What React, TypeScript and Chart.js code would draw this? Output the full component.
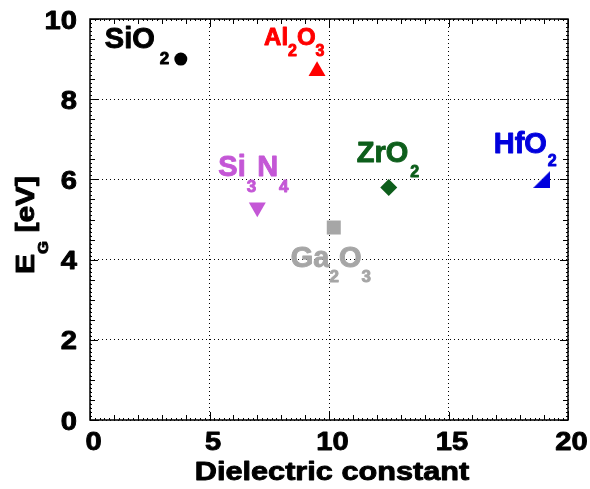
import { useEffect, useRef } from 'react';
import { Chart, registerables } from 'chart.js';

Chart.register(...registerables);

// Band gap vs. dielectric constant of common gate dielectrics
const materials = ['SiO2', 'Al2O3', 'Si3N4', 'Ga2O3', 'ZrO2', 'HfO2'];
const dielectricConstant = [3.8, 9.5, 7.0, 10.2, 12.5, 18.9];
const bandGapEV = [9.0, 8.7, 5.3, 4.8, 5.8, 6.0];

const xTickValues = [0, 5, 10, 15, 20];
const yTickValues = [0, 2, 4, 6, 8, 10];
const xTitle = 'Dielectric constant';

const colors = ['#000000', '#ff0000', '#c457d6', '#a6a6a6', '#0d5e1b', '#0000dd'];
const markerRadius = [6.5, 9.8, 9.8, 9.9, 8.5, 8.5];
const markerRotation = [0, 0, 180, 0, 0, 0];

// label placement relative to each marker (px): text start, baseline, font sizes
const labelStyle = [
  { dx: -76, dy: -11, size: 29, subSize: 17, subDy: 16, gap: 5 },
  { dx: -53, dy: -26.5, size: 24, subSize: 16, subDy: 11, gap: 0 },
  { dx: -39, dy: -31.5, size: 29, subSize: 17, subDy: 16, gap: 1 },
  { dx: -43, dy: 39.5, size: 29, subSize: 17, subDy: 15, gap: 0 },
  { dx: -32, dy: -25, size: 29, subSize: 16, subDy: 14.5, gap: 2 },
  { dx: -48, dy: -26, size: 29, subSize: 16, subDy: 13, gap: 1 },
];

const FONT = '"Liberation Sans", Arial, Helvetica, sans-serif';
const HEAVY = 0.9; // extra stroke to give the bold face more weight

type Run = { text: string; sub: boolean };

function formulaRuns(name: string): Run[] {
  const out: Run[] = [];
  const re = /(\d+)|(\D+)/g;
  let m: RegExpExecArray | null;
  while ((m = re.exec(name))) out.push({ text: m[0], sub: !!m[1] });
  return out;
}

function wedgeMarker(color: string, size: number) {
  const c = document.createElement('canvas');
  c.width = size;
  c.height = size;
  const g = c.getContext('2d')!;
  g.fillStyle = color;
  g.beginPath();
  g.moveTo(size, 0);
  g.lineTo(size, size);
  g.lineTo(0, size);
  g.closePath();
  g.fill();
  return c;
}

function heavyText(ctx: CanvasRenderingContext2D, text: string, x: number, y: number) {
  ctx.strokeStyle = ctx.fillStyle as string;
  ctx.lineWidth = HEAVY;
  ctx.lineJoin = 'round';
  ctx.fillText(text, x, y);
  ctx.strokeText(text, x, y);
}

// draws a sequence of normal / subscript text pieces along a baseline
function drawRuns(
  ctx: CanvasRenderingContext2D,
  runs: Run[],
  size: number,
  subSize: number,
  subDy: number,
  gap: number,
  stretch: number,
) {
  let cx = 0;
  ctx.save();
  ctx.scale(stretch, 1);
  ctx.textBaseline = 'alphabetic';
  ctx.textAlign = 'left';
  runs.forEach((r, i) => {
    ctx.font = `bold ${r.sub ? subSize : size}px ${FONT}`;
    heavyText(ctx, r.text, cx, r.sub ? subDy : 0);
    cx += ctx.measureText(r.text).width;
    if (i < runs.length - 1) cx += gap;
  });
  ctx.restore();
}

const framePlugin = {
  id: 'frameAndTicks',
  beforeDatasetsDraw(chart: any) {
    const { ctx, chartArea: a, scales } = chart;
    const xs = scales.x;
    const ys = scales.y;
    ctx.save();
    ctx.strokeStyle = '#000';
    ctx.lineWidth = 1;
    ctx.beginPath();
    for (let i = 0; i <= 100; i++) {
      const v = i * 0.2;
      const len = i % 25 === 0 ? 8 : i % 5 === 0 ? 5 : 2;
      const px = Math.round(xs.getPixelForValue(v)) + 0.5;
      ctx.moveTo(px, a.bottom);
      ctx.lineTo(px, a.bottom - len);
      ctx.moveTo(px, a.top);
      ctx.lineTo(px, a.top + len);
    }
    for (let i = 0; i <= 100; i++) {
      const v = i * 0.1;
      const len = i % 20 === 0 ? 8 : i % 5 === 0 ? 5 : 2;
      const py = Math.round(ys.getPixelForValue(v)) + 0.5;
      ctx.moveTo(a.left, py);
      ctx.lineTo(a.left + len, py);
      ctx.moveTo(a.right, py);
      ctx.lineTo(a.right - len, py);
    }
    ctx.stroke();
    ctx.lineWidth = 1.5;
    ctx.strokeRect(a.left, a.top, a.right - a.left, a.bottom - a.top);
    ctx.restore();
  },
  afterDraw(chart: any) {
    const { ctx, chartArea: a, scales } = chart;
    const xs = scales.x;
    const ys = scales.y;
    ctx.save();
    ctx.fillStyle = '#000';
    // x tick labels
    ctx.font = `bold 26px ${FONT}`;
    xTickValues.forEach((v) => {
      ctx.save();
      ctx.translate(xs.getPixelForValue(v) + 3.5, 450);
      ctx.scale(1.12, 1);
      ctx.textAlign = 'center';
      heavyText(ctx, String(v), 0, 0);
      ctx.restore();
    });
    // y tick labels
    yTickValues.forEach((v) => {
      ctx.save();
      ctx.translate(77, ys.getPixelForValue(v) + 9.5);
      ctx.scale(1.12, 1);
      ctx.textAlign = 'right';
      heavyText(ctx, String(v), 0, 0);
      ctx.restore();
    });
    // x axis title
    ctx.save();
    ctx.font = `bold 26px ${FONT}`;
    ctx.translate((a.left + a.right) / 2 + 3, 480);
    ctx.scale(1.18, 1);
    ctx.textAlign = 'center';
    heavyText(ctx, xTitle, 0, 0);
    ctx.restore();
    // y axis title: E_G [eV]
    ctx.save();
    ctx.translate(33.5, 274);
    ctx.rotate(-Math.PI / 2);
    drawRuns(
      ctx,
      [
        { text: 'E', sub: false },
        { text: 'G', sub: true },
        { text: ' [eV]', sub: false },
      ],
      25,
      14,
      14.7,
      0,
      1.2,
    );
    ctx.restore();
    // material labels
    materials.forEach((name, i) => {
      const s = labelStyle[i];
      const px = xs.getPixelForValue(dielectricConstant[i]);
      const py = ys.getPixelForValue(bandGapEV[i]);
      ctx.save();
      ctx.fillStyle = colors[i];
      ctx.translate(px + s.dx, py + s.dy);
      drawRuns(ctx, formulaRuns(name), s.size, s.subSize, s.subDy, s.gap, 1);
      ctx.restore();
    });
    ctx.restore();
  },
};

export default function App() {
  const ref = useRef<HTMLCanvasElement>(null);

  useEffect(() => {
    const canvas = ref.current;
    if (!canvas) return;
    const styles: any[] = ['circle', 'triangle', 'triangle', 'rect', 'rectRot', wedgeMarker(colors[5], 17)];
    const chart = new Chart(canvas, {
      type: 'scatter',
      data: {
        datasets: [
          {
            data: materials.map((_, i) => ({ x: dielectricConstant[i], y: bandGapEV[i] })),
            pointStyle: styles,
            pointRadius: markerRadius,
            pointRotation: markerRotation,
            pointBackgroundColor: colors,
            pointBorderColor: colors,
            pointBorderWidth: 0,
            showLine: false,
          } as any,
        ],
      },
      options: {
        animation: false,
        responsive: false,
        events: [],
        layout: { padding: { left: 90, right: 22, top: 19, bottom: 69 } },
        plugins: { legend: { display: false }, tooltip: { enabled: false } },
        scales: {
          x: {
            type: 'linear',
            min: 0,
            max: 20,
            ticks: { display: false, stepSize: 5 },
            grid: { color: '#000', lineWidth: 1, drawTicks: false },
            border: { display: false, dash: [1, 3] },
          },
          y: {
            type: 'linear',
            min: 0,
            max: 10,
            ticks: { display: false, stepSize: 2 },
            grid: { color: '#000', lineWidth: 1, drawTicks: false },
            border: { display: false, dash: [1, 3] },
          },
        },
      },
      plugins: [framePlugin],
    });
    return () => chart.destroy();
  }, []);

  return (
    <div style={{ position: 'fixed', left: 0, top: 0, width: 590, height: 489, background: '#fff' }}>
      <canvas ref={ref} width={590} height={489} style={{ width: 590, height: 489, display: 'block' }} />
    </div>
  );
}
